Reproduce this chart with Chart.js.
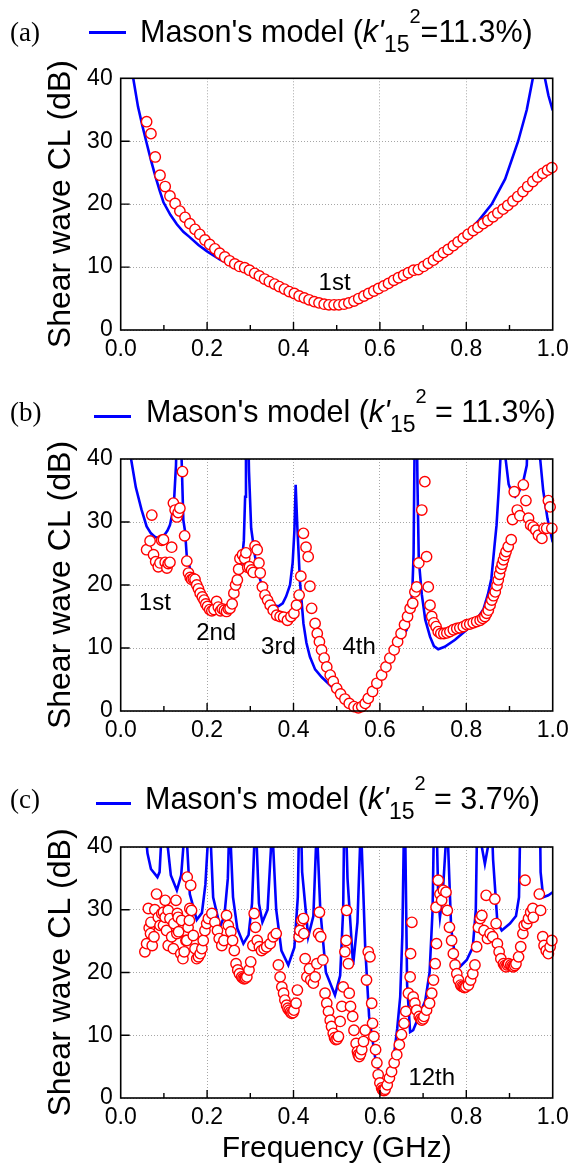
<!DOCTYPE html>
<html><head><meta charset="utf-8">
<script src="https://cdn.jsdelivr.net/npm/chart.js@4.4.1/dist/chart.umd.min.js"></script>
<style>
html,body{margin:0;padding:0;background:#fff;}
body{width:578px;height:1173px;position:relative;overflow:hidden;font-family:'Liberation Sans',Arial,sans-serif;}
canvas{position:absolute;left:0;}
.plabel{position:absolute;font-family:'Liberation Serif','Times New Roman',serif;font-size:27px;line-height:27px;color:#000;z-index:2;}
.lline{position:absolute;height:2.6px;background:#0000ff;z-index:2;}
.ltext{position:absolute;font-size:30.5px;line-height:30px;color:#000;white-space:nowrap;z-index:2;}
.ltext .sb{font-size:23px;position:relative;top:10px;}
.ltext .sp{font-size:20px;position:relative;top:-19px;}
</style>
</head>
<body>
<div class="plabel" style="left:10px;top:19px">(a)</div>
<div class="lline" style="left:89px;top:31px;width:37px"></div>
<div class="ltext" style="left:140px;top:16px">Mason's model (<i>k'</i><span class="sb">15</span><span class="sp">2</span>=11.3%)</div>

<div class="plabel" style="left:10px;top:399px">(b)</div>
<div class="lline" style="left:94px;top:415px;width:37px"></div>
<div class="ltext" style="left:146px;top:396px">Mason's model (<i>k'</i><span class="sb">15</span><span class="sp">2</span> = 11.3%)</div>

<div class="plabel" style="left:10px;top:786px">(c)</div>
<div class="lline" style="left:96px;top:802px;width:35px"></div>
<div class="ltext" style="left:145px;top:783px">Mason's model (<i>k'</i><span class="sb">15</span><span class="sp">2</span> = 3.7%)</div>

<canvas id="ca" width="578" height="340" style="top:40px"></canvas>
<canvas id="cb" width="578" height="341" style="top:420px"></canvas>
<canvas id="cc" width="578" height="358" style="top:810px"></canvas>

<script>
// ---------- axis ticks ----------
const xTickValues = [0, 0.2, 0.4, 0.6, 0.8, 1.0];
const xTickLabels = ['0.0', '0.2', '0.4', '0.6', '0.8', '1.0'];
const xMinorTicks = [0.1, 0.2, 0.3, 0.4, 0.5, 0.6, 0.7, 0.8, 0.9];
const yTickValues = [0, 10, 20, 30, 40];
const yTitle = 'Shear wave CL (dB)';
const xTitle = 'Frequency (GHz)';

// ---------- panel (a) ----------
const aModelFreq = [0.020,0.029,0.040,0.050,0.059,0.070,0.080,0.090,0.099,0.115,0.130,0.145,0.159,0.180,0.200,0.230,0.268,0.300,0.350,0.400,0.450,0.500,0.550,0.600,0.650,0.700,0.750,0.793,0.830,0.859,0.890,0.920,0.940,0.954,0.962,0.975,0.982,0.990,1.000];
const aModelCL   = [48,40,35.5,32.5,30.0,27.0,24.5,22.2,20.3,18.3,16.8,15.6,14.8,13.5,12.5,11.2,10.0,8.9,7.1,5.6,4.5,4.0,4.6,6.4,8.5,10.4,12.5,14.8,17.5,20.0,24.0,30.0,35.0,40.0,48,48,40,37.3,34.9];
const aMeasFreq = [0.060,0.070,0.080,0.091,0.103,0.114,0.126,0.137,0.149,0.160,0.172,0.183,0.195,0.206,0.218,0.229,0.241,0.252,0.264,0.275,0.287,0.298,0.310,0.321,0.333,0.344,0.356,0.367,0.379,0.390,0.402,0.413,0.425,0.436,0.448,0.459,0.471,0.482,0.494,0.505,0.517,0.528,0.540,0.551,0.563,0.574,0.586,0.597,0.609,0.620,0.632,0.643,0.655,0.666,0.678,0.689,0.701,0.712,0.724,0.735,0.747,0.758,0.770,0.781,0.793,0.804,0.816,0.827,0.839,0.850,0.862,0.873,0.885,0.896,0.908,0.919,0.931,0.942,0.954,0.965,0.977,0.988,0.998];
const aMeasCL   = [33.1,31.2,27.5,24.6,22.8,21.3,20.1,18.9,17.9,16.9,16.0,15.2,14.3,13.6,12.9,12.2,11.6,11.0,10.5,10.1,9.9,9.5,9.0,8.6,8.1,7.7,7.3,6.9,6.5,6.1,5.8,5.4,5.1,4.8,4.5,4.3,4.1,4.0,4.0,4.0,4.1,4.3,4.6,5.0,5.4,5.8,6.2,6.6,7.0,7.4,7.9,8.3,8.7,9.1,9.5,9.6,10.1,10.6,11.1,11.7,12.3,12.8,13.4,14.0,14.6,15.2,15.8,16.3,16.9,17.4,18.0,18.6,19.2,19.8,20.5,21.2,22.0,22.8,23.6,24.3,24.9,25.4,25.8];
const aNoteText = ['1st'];
const aNoteFreq = [0.495];
const aNoteCL   = [7.4];

// ---------- panel (b) ----------
const bModelFreq = [0.015,0.024,0.035,0.048,0.060,0.070,0.080,0.090,0.100,0.108,0.114,0.120,0.124,0.128,0.131,0.138,0.141,0.145,0.149,0.153,0.165,0.180,0.200,0.220,0.235,0.250,0.262,0.272,0.280,0.285,0.288,0.290,0.294,0.297,0.302,0.311,0.320,0.330,0.340,0.352,0.365,0.375,0.383,0.392,0.398,0.402,0.405,0.409,0.415,0.423,0.430,0.438,0.450,0.465,0.488,0.510,0.530,0.554,0.570,0.590,0.605,0.623,0.645,0.662,0.670,0.675,0.678,0.680,0.682,0.685,0.687,0.690,0.697,0.705,0.716,0.725,0.735,0.750,0.774,0.801,0.825,0.840,0.850,0.858,0.865,0.870,0.875,0.879,0.882,0.889,0.891,0.898,0.906,0.913,0.922,0.932,0.940,0.944,0.968,0.971,0.978,0.988,1.000];
const bModelCL   = [48,40,35.5,32,29.3,28.2,27.6,27.4,27.8,28.6,29.5,31.5,34,39,48,48,40,30.3,28.5,24.5,21.5,19.2,17.2,16.2,15.9,16.5,18.0,20.5,23.5,27,34,48,48,38,29,24.5,21.5,19.2,17.8,16.9,16.6,17.1,18.2,20.0,23.5,28.5,35.9,29,20.5,13.9,10.8,8.6,6.6,5.4,3.9,2.6,1.3,0.3,1.6,3.8,5.8,8.1,10.8,12.9,15.5,19,25,40,48,48,36,24,18.5,14.5,11.8,10.3,9.8,10.2,11.3,12.9,14.6,16.2,18.5,21,26,29.5,35,40,48,48,40,36,34.5,34.0,34.8,36.5,39,48,48,40,35,30.5,26.8];
const bMeasFreq = [0.060,0.068,0.072,0.076,0.081,0.087,0.091,0.095,0.099,0.103,0.107,0.110,0.114,0.118,0.122,0.126,0.130,0.133,0.137,0.143,0.148,0.153,0.157,0.161,0.164,0.168,0.172,0.176,0.180,0.184,0.189,0.193,0.197,0.201,0.206,0.211,0.216,0.222,0.226,0.231,0.235,0.240,0.245,0.249,0.253,0.258,0.262,0.266,0.270,0.273,0.276,0.282,0.287,0.290,0.294,0.298,0.303,0.307,0.311,0.316,0.320,0.323,0.328,0.334,0.340,0.346,0.353,0.361,0.369,0.377,0.386,0.394,0.401,0.407,0.413,0.417,0.423,0.429,0.434,0.438,0.442,0.450,0.455,0.460,0.465,0.471,0.477,0.485,0.492,0.500,0.509,0.519,0.529,0.540,0.550,0.558,0.566,0.573,0.583,0.593,0.604,0.614,0.623,0.633,0.641,0.649,0.657,0.664,0.670,0.676,0.681,0.685,0.690,0.697,0.704,0.708,0.712,0.716,0.720,0.725,0.730,0.735,0.741,0.748,0.755,0.762,0.770,0.778,0.785,0.793,0.801,0.808,0.816,0.824,0.832,0.838,0.843,0.847,0.851,0.855,0.859,0.863,0.867,0.871,0.874,0.877,0.880,0.883,0.886,0.889,0.892,0.897,0.904,0.907,0.911,0.918,0.924,0.932,0.938,0.944,0.949,0.955,0.961,0.967,0.975,0.980,0.986,0.990,0.994,0.998];
const bMeasCL   = [25.6,27.0,31.1,24.8,23.7,22.9,23.5,27.1,27.2,23.6,22.7,23.4,23.6,26.0,33.0,31.9,30.8,31.5,32.2,38.0,27.8,23.8,21.9,21.2,20.9,21.0,20.9,20.0,19.4,18.7,18.1,17.6,17.0,16.6,16.1,15.9,16.1,17.4,16.5,15.9,16.2,16.0,15.8,16.2,16.3,17.0,18.7,20.0,20.8,22.5,24.2,24.8,24.2,25.1,22.8,22.9,22.4,22.0,26.2,25.6,23.5,21.9,19.7,18.4,17.6,16.8,16.0,15.2,15.0,14.9,14.4,15.0,15.5,16.8,18.4,21.4,28.2,26.0,24.5,19.8,16.3,13.9,12.3,11.0,9.7,8.4,7.0,5.7,4.7,3.6,2.7,1.9,1.2,0.7,0.5,0.7,1.2,2.0,3.1,4.4,5.7,7.0,8.4,9.7,11.0,12.3,13.7,15.0,16.3,17.1,18.9,19.7,23.5,31.9,36.4,24.5,19.7,16.8,15.0,14.0,13.4,12.6,12.3,12.3,12.4,12.6,12.9,13.1,13.2,13.4,13.7,13.8,14.0,14.2,14.4,14.7,15.0,15.5,16.0,16.8,17.6,18.3,18.9,19.9,20.8,21.7,22.6,23.3,24.0,24.7,25.3,26.1,27.2,30.4,34.8,31.9,31.0,35.9,33.4,30.6,29.5,29.2,28.7,27.9,27.4,29.0,29.0,33.4,32.4,29.0];
const bNoteText = ['1st', '2nd', '3rd', '4th'];
const bNoteFreq = [0.079, 0.221, 0.365, 0.552];
const bNoteCL   = [17.1, 12.3, 10.1, 10.1];

// ---------- panel (c) ----------
const cModelFreq = [0.050,0.058,0.062,0.070,0.085,0.090,0.093,0.097,0.105,0.109,0.116,0.130,0.140,0.145,0.149,0.151,0.154,0.160,0.176,0.188,0.196,0.201,0.204,0.206,0.209,0.214,0.230,0.240,0.248,0.250,0.2525,0.255,0.260,0.270,0.284,0.296,0.304,0.309,0.311,0.313,0.315,0.320,0.328,0.340,0.348,0.351,0.353,0.360,0.372,0.388,0.402,0.410,0.414,0.416,0.420,0.434,0.446,0.452,0.454,0.456,0.462,0.475,0.496,0.508,0.515,0.518,0.520,0.525,0.538,0.548,0.554,0.556,0.558,0.566,0.575,0.590,0.610,0.625,0.631,0.640,0.647,0.652,0.655,0.657,0.659,0.663,0.670,0.677,0.690,0.705,0.715,0.722,0.726,0.730,0.735,0.739,0.745,0.752,0.755,0.758,0.765,0.775,0.785,0.801,0.815,0.822,0.826,0.832,0.836,0.843,0.850,0.853,0.857,0.862,0.872,0.882,0.901,0.915,0.922,0.926,0.970,0.972,0.978,0.990,1.000];
const cModelCL   = [48,42,39,36.5,35.2,36,40,48,48,40,35.5,33.1,35.5,40,48,48,40,32.5,28.4,29.5,34,40,48,48,40,32,27.3,29,35,40,50,40,32,27,24.6,26,31,40,48,48,40,31,28,30,40,48,40,30,23.5,21.2,24,32,48,48,36,25.7,29,40,48,40,30,20,16.4,19.5,30,48,48,35,21.2,28,40,48,40,24,13,6,1.5,4,6.0,11,16.1,26,40,48,40,18,10.5,10.8,13,15.5,20,30,48,48,32,28.8,32,40,48,40,27,22,20.9,22.0,24,30,48,48,40,37.3,40,48,48,38,28,26.7,27.8,29,32,48,48,36,32,32.3,32.8];
const cMeasFreq = [0.056,0.060,0.064,0.066,0.069,0.070,0.073,0.077,0.079,0.083,0.087,0.091,0.095,0.099,0.099,0.103,0.103,0.106,0.110,0.110,0.114,0.118,0.122,0.123,0.128,0.130,0.131,0.133,0.134,0.139,0.141,0.144,0.147,0.151,0.153,0.154,0.156,0.159,0.160,0.162,0.164,0.168,0.172,0.176,0.180,0.184,0.188,0.191,0.195,0.199,0.203,0.211,0.218,0.224,0.228,0.234,0.239,0.245,0.249,0.255,0.259,0.263,0.267,0.271,0.275,0.280,0.283,0.286,0.289,0.292,0.297,0.301,0.306,0.309,0.312,0.316,0.321,0.326,0.332,0.338,0.346,0.353,0.360,0.365,0.369,0.373,0.377,0.380,0.384,0.387,0.390,0.393,0.396,0.399,0.401,0.406,0.409,0.413,0.415,0.419,0.423,0.424,0.427,0.431,0.437,0.440,0.446,0.450,0.454,0.458,0.460,0.463,0.468,0.473,0.477,0.481,0.485,0.488,0.492,0.495,0.498,0.501,0.504,0.508,0.512,0.515,0.519,0.522,0.523,0.527,0.529,0.532,0.537,0.540,0.545,0.548,0.550,0.552,0.555,0.558,0.562,0.566,0.569,0.573,0.577,0.581,0.583,0.586,0.590,0.593,0.596,0.600,0.604,0.606,0.608,0.610,0.612,0.617,0.622,0.627,0.633,0.639,0.645,0.650,0.656,0.660,0.666,0.670,0.671,0.674,0.677,0.681,0.685,0.691,0.694,0.697,0.700,0.702,0.708,0.715,0.720,0.724,0.728,0.731,0.730,0.735,0.739,0.743,0.747,0.753,0.756,0.761,0.766,0.770,0.774,0.778,0.782,0.787,0.790,0.793,0.796,0.799,0.805,0.810,0.815,0.820,0.824,0.828,0.832,0.836,0.841,0.846,0.849,0.855,0.861,0.866,0.869,0.872,0.876,0.880,0.886,0.889,0.892,0.895,0.898,0.903,0.906,0.909,0.912,0.915,0.921,0.926,0.931,0.934,0.936,0.940,0.944,0.949,0.954,0.955,0.969,0.972,0.977,0.980,0.985,0.990,0.994,0.998];
const cMeasCL   = [23.3,24.6,30.2,27.1,26.2,28.0,24.3,25.7,30.0,32.5,28.8,27.5,29.4,27.5,29.6,31.5,28.8,26.7,24.3,29.9,28.6,25.7,23.8,27.8,31.5,26.2,29.4,28.8,26.5,23.0,28.3,22.2,23.3,25.1,25.1,35.2,27.2,28.3,30.2,33.9,29.9,25.9,23.8,22.2,22.5,23.0,23.8,25.1,26.7,27.8,28.6,29.4,28.0,26.7,25.4,24.3,25.1,29.1,27.5,26.5,25.1,23.5,21.4,20.4,19.8,19.3,19.1,19.0,19.1,19.3,20.4,21.7,24.3,29.4,27.2,25.1,24.1,23.5,23.8,24.1,24.6,25.7,26.2,21.2,19.3,17.7,16.7,15.6,14.8,14.3,14.0,13.7,13.5,13.6,14.0,15.1,17.2,25.7,26.7,28.3,28.6,26.2,22.2,19.3,20.6,18.8,18.3,19.3,21.4,26.2,29.6,25.7,22.0,16.7,15.1,13.8,12.4,11.4,10.3,9.6,9.3,9.4,9.8,12.2,14.6,17.7,23.3,25.1,29.9,21.4,16.7,14.6,13.0,10.8,8.7,7.4,6.9,6.6,7.0,7.7,9.0,10.8,18.8,23.3,22.5,15.1,11.9,9.8,7.7,5.6,3.7,2.4,1.6,1.3,1.2,1.2,1.4,2.1,3.2,4.2,5.6,6.9,8.5,10.1,11.9,13.8,16.7,19.3,23.0,28.0,16.1,15.1,14.0,13.0,12.6,12.4,12.6,13.0,14.0,15.1,16.7,18.8,21.4,24.6,30.4,34.7,32.5,31.5,33.1,32.8,29.9,27.2,25.1,23.0,21.2,19.8,18.8,18.0,17.8,17.7,17.6,17.7,18.0,18.8,19.8,21.2,24.1,27.2,28.6,29.1,26.7,32.3,25.4,26.2,25.7,31.7,27.8,24.6,23.3,22.2,21.4,21.1,20.9,21.2,21.4,21.2,21.0,20.9,21.1,21.4,22.5,24.1,26.2,27.5,34.7,27.8,28.6,29.6,30.2,28.8,32.5,29.9,25.7,24.3,23.5,23.0,24.1,25.1];
const cNoteText = ['12th'];
const cNoteFreq = [0.720];
const cNoteCL   = [3.2];

// ---------- drawing ----------
const FONT = "'Liberation Sans', Arial, sans-serif";

function decorPlugin(noteText, noteFreq, noteCL) {
  return {
    id: 'decor',
    afterDatasetsDraw(chart) {
      const {ctx, chartArea: a, scales: {x, y}} = chart;
      ctx.save();
      ctx.strokeStyle = '#000';
      ctx.lineWidth = 1.4;
      ctx.beginPath();
      xMinorTicks.forEach(v => {
        const px = x.getPixelForValue(v);
        const len = (Math.round(v * 10) % 2 === 0) ? 8 : 5;
        ctx.moveTo(px, a.bottom); ctx.lineTo(px, a.bottom - len);
      });
      yTickValues.slice(1, -1).forEach(v => {
        const py = y.getPixelForValue(v);
        ctx.moveTo(a.left, py); ctx.lineTo(a.left + 9, py);
      });
      ctx.stroke();
      ctx.lineWidth = 1.6;
      ctx.strokeRect(a.left, a.top, a.right - a.left, a.bottom - a.top);
      ctx.fillStyle = '#000';
      ctx.font = '24px ' + FONT;
      ctx.textAlign = 'center';
      ctx.textBaseline = 'middle';
      noteText.forEach((t, i) => ctx.fillText(t, x.getPixelForValue(noteFreq[i]), y.getPixelForValue(noteCL[i])));
      ctx.restore();
    }
  };
}

function makePanel(id, modelF, modelCL, measF, measCL, noteText, noteF, noteCL, padTop, xHeight, showXTitle) {
  const gridOpts = {color: '#a6a6a6', lineWidth: 1, drawTicks: false};
  const borderOpts = {display: false, dash: [1, 2]};
  return new Chart(document.getElementById(id), {
    type: 'scatter',
    data: {
      datasets: [
        {
          label: 'Measured',
          data: measF.map((f, i) => ({x: f, y: measCL[i]})),
          showLine: false,
          pointStyle: 'circle',
          pointRadius: 5.2,
          pointBorderWidth: 1.4,
          pointBorderColor: '#ff0000',
          pointBackgroundColor: '#ffffff',
          borderColor: '#ff0000',
          backgroundColor: '#ffffff',
          order: 0,
          clip: false
        },
        {
          label: "Mason's model",
          type: 'line',
          data: modelF.map((f, i) => ({x: f, y: modelCL[i]})),
          borderColor: '#0000ff',
          borderWidth: 2.6,
          pointRadius: 0,
          tension: 0,
          fill: false,
          order: 1,
          clip: 0
        }
      ]
    },
    options: {
      responsive: false,
      animation: false,
      devicePixelRatio: 1,
      events: [],
      layout: {padding: {left: 0, right: 25.3, top: padTop, bottom: 0}},
      plugins: {legend: {display: false}, tooltip: {enabled: false}},
      scales: {
        x: {
          type: 'linear', min: 0, max: 1,
          afterBuildTicks: s => { s.ticks = xTickValues.map(v => ({value: v})); },
          ticks: {callback: (v, i) => xTickLabels[i], color: '#000', font: {family: FONT, size: 23}, padding: 6, maxRotation: 0, autoSkip: false},
          grid: gridOpts,
          border: borderOpts,
          title: {display: showXTitle, text: xTitle, color: '#000', font: {family: FONT, size: 30}, padding: {top: 0, bottom: 1}},
          afterFit: s => { s.height = xHeight; }
        },
        y: {
          min: 0, max: 40,
          afterBuildTicks: s => { s.ticks = yTickValues.map(v => ({value: v})); },
          ticks: {callback: v => String(v), color: '#000', font: {family: FONT, size: 23}, padding: 8},
          grid: gridOpts,
          border: borderOpts,
          title: {display: true, text: yTitle, color: '#000', font: {family: FONT, size: 32}, padding: {top: 42, bottom: 0}},
          afterFit: s => { s.width = 120.7; }
        }
      }
    },
    plugins: [decorPlugin(noteText, noteF, noteCL)]
  });
}

makePanel('ca', aModelFreq, aModelCL, aMeasFreq, aMeasCL, aNoteText, aNoteFreq, aNoteCL, 38.3, 50, false);
makePanel('cb', bModelFreq, bModelCL, bMeasFreq, bMeasCL, bNoteText, bNoteFreq, bNoteCL, 39, 50, false);
makePanel('cc', cModelFreq, cModelCL, cMeasFreq, cMeasCL, cNoteText, cNoteFreq, cNoteCL, 37, 70, true);
</script>
</body></html>
